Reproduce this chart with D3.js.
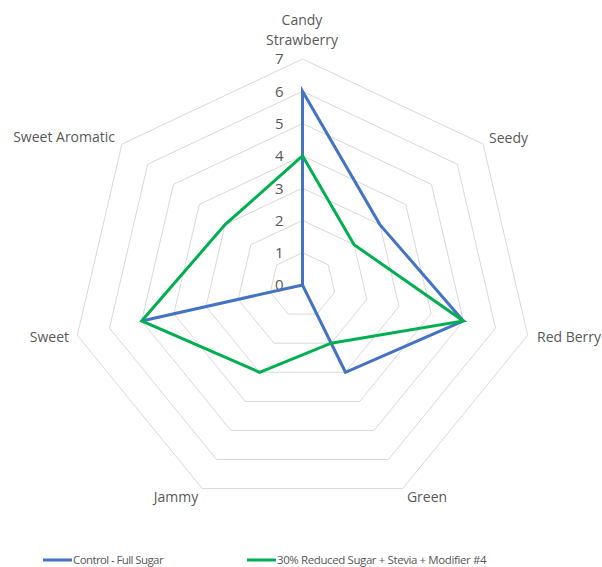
<!DOCTYPE html>
<meta charset="utf-8">
<style>
body { margin: 0; background: #fff; }
#box1 { width: 602px; height: 567px; }
text { font-family: "Open Sans", sans-serif; fill: #595959; }
</style>
<body>
  <div id="box1"></div>
</body>
<script src="https://d3js.org/d3.v7.min.js"></script>
<script>

var width = 602, height = 567;
var cx = 302.5, cy = 285;

// axes, clockwise from the top
var attributes = ["Candy Strawberry", "Seedy", "Red Berry", "Green", "Jammy", "Sweet", "Sweet Aromatic"];
var control = [6, 3, 5, 3, 0, 5, 0];
var reduced = [4, 2, 5, 2, 3, 5, 3];
var ticks = [0, 1, 2, 3, 4, 5, 6, 7];
var seriesNames = ["Control - Full Sugar", "30% Reduced Sugar + Stevia + Modifier #4"];

var colors = d3.scaleOrdinal()
  .domain(seriesNames)
  .range(["#4472C4", "#00B050"]);

var rScale = d3.scaleLinear([0, 7], [0, 226]);
var angle = d3.scaleLinear([0, attributes.length], [0, 2 * Math.PI]);

// picture is slightly wider than tall
function px(i, v) { return cx + 1.022 * rScale(v) * Math.sin(angle(i)); }
function py(i, v) { return cy - rScale(v) * Math.cos(angle(i)); }

var svg = d3.select("#box1").append("svg")
    .attr("width", width)
    .attr("height", height);

// grid rings
var line = d3.line().x(d => d[0]).y(d => d[1]);
svg.append("g").selectAll("path")
  .data(ticks.slice(1))
  .join("path")
    .attr("d", t => line(attributes.map((a, i) => [px(i, t), py(i, t)])) + "Z")
    .attr("fill", "none")
    .attr("stroke", "#d9d9d9")
    .attr("stroke-width", 1);

// tick labels
svg.append("g").selectAll("text")
  .data(ticks)
  .join("text")
    .attr("x", cx - 19)
    .attr("y", t => py(0, t))
    .attr("dy", "0.36em")
    .attr("text-anchor", "end")
    .style("font-size", "15px")
    .text(t => t);

// series
var seriesData = [control, reduced];
svg.append("g").selectAll("path")
  .data(seriesData)
  .join("path")
    .attr("d", s => line(s.map((v, i) => [px(i, v), py(i, v)])) + "Z")
    .attr("fill", "none")
    .attr("stroke", (s, i) => colors(seriesNames[i]))
    .attr("stroke-width", 3)
    .attr("stroke-linejoin", "miter");

// category labels
var labelPos = [
  {x: 302, y: 20, anchor: "middle"},
  {x: 489, y: 138, anchor: "start"},
  {x: 537, y: 337, anchor: "start"},
  {x: 427, y: 497, anchor: "middle"},
  {x: 176, y: 497, anchor: "middle"},
  {x: 69, y: 337, anchor: "end"},
  {x: 115, y: 137, anchor: "end"}
];
var lbl = svg.append("g").selectAll("text")
  .data(attributes)
  .join("text")
    .attr("x", (d, i) => labelPos[i].x)
    .attr("y", (d, i) => labelPos[i].y)
    .attr("text-anchor", (d, i) => labelPos[i].anchor)
    .style("font-size", "14px");
lbl.each(function(d) {
  var words = d === "Candy Strawberry" ? d.split(" ") : [d];
  var el = d3.select(this);
  var x0 = el.attr("x");
  words.forEach((w, k) => {
    el.append("tspan").attr("x", x0).attr("dy", k === 0 ? "0.35em" : "1.45em").text(w);
  });
});

// legend
var legendX = [43, 247];
var lg = svg.append("g").selectAll("g")
  .data(seriesNames)
  .join("g")
    .attr("transform", (d, i) => "translate(" + legendX[i] + ",560)");
lg.append("line")
  .attr("x1", 0).attr("x2", 29)
  .attr("stroke", d => colors(d))
  .attr("stroke-width", 3);
lg.append("text")
  .attr("x", 30)
  .attr("dy", "0.35em")
  .style("font-size", "11.5px")
  .style("letter-spacing", (d, i) => i === 0 ? "-0.6px" : "-0.4px")
  .text(d => d);

</script>
